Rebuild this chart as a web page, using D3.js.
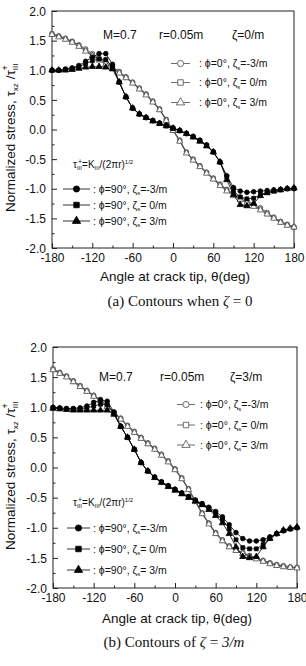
<!DOCTYPE html>
<html><head><meta charset="utf-8">
<script src="https://cdn.jsdelivr.net/npm/d3@7"></script>
<style>html,body{margin:0;padding:0;background:#fff;} svg{display:block;}</style>
</head><body>
<script>
// ---------- data ----------
const angles = [-180,-170,-160,-150,-140,-130,-120,-110,-100,-90,-80,-70,-60,-50,-40,-30,-20,-10,0,10,20,30,40,50,60,70,80,90,100,110,120,130,140,150,160,170,180];
const xTicks = [-180,-120,-60,0,60,120,180];
const xMinor = [-150,-90,-30,30,90,150];
const yTicks = [-2.0,-1.5,-1.0,-0.5,0.0,0.5,1.0,1.5,2.0];
const yMinor = [-1.75,-1.25,-0.75,-0.25,0.25,0.75,1.25,1.75];

const openLabels = ["-3/m","\u00a00/m","\u00a03/m"];
const fillLabels = ["-3/m","\u00a00/m","\u00a03/m"];

// panel (a): zeta = 0
const aOpenCircle   = [1.62,1.58,1.54,1.49,1.43,1.36,1.28,1.21,1.14,1.06,0.98,0.89,0.80,0.70,0.60,0.48,0.35,0.17,0.00,-0.18,-0.38,-0.50,-0.61,-0.72,-0.82,-0.92,-1.01,-1.08,-1.14,-1.20,-1.26,-1.32,-1.40,-1.48,-1.55,-1.60,-1.64];
const aOpenSquare   = [1.61,1.57,1.53,1.48,1.42,1.34,1.26,1.19,1.12,1.05,0.97,0.88,0.79,0.69,0.59,0.47,0.34,0.16,-0.01,-0.19,-0.39,-0.51,-0.62,-0.73,-0.83,-0.93,-1.02,-1.10,-1.16,-1.22,-1.28,-1.34,-1.42,-1.49,-1.56,-1.61,-1.65];
const aOpenTriangle = [1.60,1.56,1.52,1.47,1.40,1.32,1.24,1.17,1.10,1.03,0.95,0.87,0.78,0.68,0.58,0.46,0.33,0.15,-0.02,-0.20,-0.40,-0.52,-0.63,-0.74,-0.84,-0.95,-1.04,-1.12,-1.18,-1.24,-1.30,-1.36,-1.43,-1.50,-1.57,-1.62,-1.65];
const aFillCircle   = [1.00,1.00,1.02,1.04,1.08,1.15,1.22,1.28,1.28,1.10,0.80,0.55,0.36,0.26,0.20,0.15,0.11,0.07,0.03,-0.02,-0.07,-0.12,-0.18,-0.26,-0.38,-0.55,-0.78,-0.98,-1.04,-1.06,-1.05,-1.04,-1.03,-1.02,-1.01,-1.00,-1.00];
const aFillSquare   = [1.00,1.00,1.01,1.03,1.06,1.11,1.16,1.19,1.18,1.06,0.80,0.55,0.36,0.26,0.20,0.15,0.10,0.06,0.02,-0.02,-0.07,-0.12,-0.19,-0.27,-0.38,-0.55,-0.80,-1.04,-1.14,-1.17,-1.16,-1.10,-1.06,-1.04,-1.02,-1.00,-0.99];
const aFillTriangle = [1.00,1.00,1.00,1.01,1.03,1.05,1.06,1.06,1.05,1.02,0.80,0.55,0.36,0.26,0.20,0.14,0.10,0.06,0.02,-0.02,-0.07,-0.13,-0.20,-0.28,-0.38,-0.55,-0.85,-1.10,-1.27,-1.29,-1.25,-1.12,-1.07,-1.04,-1.02,-1.00,-0.99];

// panel (b): zeta = 3/m
const bOpenCircle   = [1.64,1.58,1.52,1.44,1.36,1.28,1.20,1.13,1.03,0.92,0.82,0.70,0.60,0.50,0.41,0.32,0.22,0.11,-0.02,-0.17,-0.35,-0.55,-0.75,-0.92,-1.08,-1.20,-1.30,-1.36,-1.41,-1.46,-1.50,-1.54,-1.58,-1.61,-1.63,-1.65,-1.66];
const bOpenSquare   = [1.63,1.57,1.51,1.43,1.35,1.27,1.19,1.12,1.02,0.91,0.81,0.69,0.59,0.49,0.40,0.31,0.21,0.10,-0.03,-0.18,-0.36,-0.56,-0.76,-0.93,-1.09,-1.21,-1.31,-1.37,-1.42,-1.47,-1.51,-1.55,-1.59,-1.62,-1.64,-1.66,-1.66];
const bOpenTriangle = [1.62,1.56,1.50,1.42,1.34,1.26,1.18,1.11,1.01,0.90,0.80,0.68,0.58,0.48,0.39,0.30,0.20,0.09,-0.04,-0.19,-0.37,-0.57,-0.77,-0.94,-1.10,-1.22,-1.32,-1.38,-1.43,-1.48,-1.52,-1.56,-1.60,-1.63,-1.65,-1.66,-1.67];
const bFillCircle   = [1.00,0.99,0.98,0.98,0.99,1.02,1.08,1.12,1.10,0.92,0.68,0.50,0.30,0.08,-0.06,-0.16,-0.24,-0.30,-0.36,-0.42,-0.48,-0.54,-0.60,-0.66,-0.73,-0.82,-0.95,-1.08,-1.18,-1.22,-1.22,-1.20,-1.15,-1.10,-1.05,-1.02,-1.00];
const bFillSquare   = [0.99,0.98,0.97,0.97,0.97,0.99,1.02,1.05,1.04,0.90,0.68,0.50,0.30,0.08,-0.06,-0.16,-0.24,-0.31,-0.37,-0.43,-0.49,-0.55,-0.61,-0.68,-0.76,-0.86,-1.02,-1.20,-1.33,-1.35,-1.35,-1.28,-1.18,-1.10,-1.05,-1.02,-1.00];
const bFillTriangle = [0.98,0.97,0.96,0.95,0.95,0.95,0.95,0.95,0.95,0.88,0.68,0.50,0.30,0.08,-0.06,-0.17,-0.25,-0.32,-0.38,-0.44,-0.50,-0.56,-0.62,-0.70,-0.80,-0.92,-1.10,-1.32,-1.48,-1.50,-1.48,-1.32,-1.18,-1.10,-1.04,-1.01,-0.99];

// ---------- layout ----------
const W = 306, H = 666;
const svg = d3.select("body").append("svg").attr("width", W).attr("height", H)
  .style("font-family", "'Liberation Sans', Arial, sans-serif");

const panels = [
  { l:52, r:294, t:11, b:248, xTickY:262, xTitleY:281, xTitleX:175, yLabBottom:212,
    capX:180, capY:306, capLabel:"(a) Contours when ", capTail:"0",
    annY:39, annM:103, annR:159, annZ:232, zetaText:"=0/m",
    oLine:[171,190], oText:199, oRows:[63.5,82.5,102.5],
    fForm:[73,165], fLine:[63,90], fText:93, fRows:[189,205,221],
    open:[aOpenCircle,aOpenSquare,aOpenTriangle], fill:[aFillCircle,aFillSquare,aFillTriangle] },
  { l:53, r:297, t:347, b:588, xTickY:602, xTitleY:623, xTitleX:177, yLabBottom:550,
    capX:174, capY:647, capLabel:"(b) Contours of ", capTail:"3/m",
    annY:381, annM:99, annR:160, annZ:230, zetaText:"=3/m",
    oLine:[177,195], oText:200, oRows:[404.5,425,445],
    fForm:[73,503], fLine:[67,90], fText:93, fRows:[528,549,570],
    open:[bOpenCircle,bOpenSquare,bOpenTriangle], fill:[bFillCircle,bFillSquare,bFillTriangle] }
];

const symTypes = [d3.symbolCircle, d3.symbolSquare, d3.symbolTriangle];
const symSizes = [17, 15, 17];
const openColor = "#4a4a4a";

panels.forEach(p => {
  const g = svg.append("g");
  const x = d3.scaleLinear().domain([-180,180]).range([p.l, p.r]);
  const y = d3.scaleLinear().domain([-2,2]).range([p.b, p.t]);

  // frame
  g.append("rect").attr("x", p.l).attr("y", p.t).attr("width", p.r-p.l).attr("height", p.b-p.t)
    .attr("fill","none").attr("stroke","#222").attr("stroke-width",1);

  // bottom axis (inward ticks)
  const bx = g.append("g").attr("transform", `translate(0,${p.b})`)
    .call(d3.axisBottom(x).tickValues(xTicks).tickSize(-5).tickFormat(d => String(d)));
  bx.select(".domain").remove();
  bx.selectAll("line").attr("stroke","#222");
  bx.selectAll("text").attr("y", p.xTickY - p.b).attr("dy", 0)
    .attr("font-size", 12).attr("fill","#111").attr("font-family","'Liberation Sans', Arial, sans-serif");
  const bxm = g.append("g").attr("transform", `translate(0,${p.b})`)
    .call(d3.axisBottom(x).tickValues(xMinor).tickSize(-2.5).tickFormat(""));
  bxm.select(".domain").remove();
  bxm.selectAll("line").attr("stroke","#222");

  // left axis
  const ly = g.append("g").attr("transform", `translate(${p.l},0)`)
    .call(d3.axisLeft(y).tickValues(yTicks).tickSize(-5).tickFormat(d => d.toFixed(1)));
  ly.select(".domain").remove();
  ly.selectAll("line").attr("stroke","#222");
  ly.selectAll("text").attr("x", -6).attr("dy","0.35em")
    .attr("font-size", 12).attr("fill","#111").attr("font-family","'Liberation Sans', Arial, sans-serif");
  const lym = g.append("g").attr("transform", `translate(${p.l},0)`)
    .call(d3.axisLeft(y).tickValues(yMinor).tickSize(-2.5).tickFormat(""));
  lym.select(".domain").remove();
  lym.selectAll("line").attr("stroke","#222");

  // axis titles
  g.append("text").attr("x", p.xTitleX).attr("y", p.xTitleY).attr("text-anchor","middle")
    .attr("font-size", 13.5).attr("fill","#111").text("Angle at crack tip, θ(deg)");

  const yl = g.append("text").attr("transform", `translate(15,${p.yLabBottom}) rotate(-90)`)
    .attr("font-size", 13.5).attr("fill","#111");
  yl.append("tspan").text("Normalized stress, τ");
  yl.append("tspan").attr("font-size", 8).attr("dy", 3).text("xz");
  yl.append("tspan").attr("dy", -3).text("\u00a0/τ");
  yl.append("tspan").attr("font-size", 8).attr("dy", 3).text("III");
  yl.append("tspan").attr("font-size", 9).attr("dx", -7).attr("dy", -10).text("+");

  // caption
  const cap = g.append("text").attr("x", p.capX).attr("y", p.capY).attr("text-anchor","middle")
    .attr("font-family","'Liberation Serif', 'Times New Roman', serif").attr("font-size", 15).attr("fill","#111");
  cap.append("tspan").text(p.capLabel);
  cap.append("tspan").attr("font-style","italic").text("ζ");
  cap.append("tspan").text("\u00a0=\u00a0");
  cap.append("tspan").attr("font-style", p.capTail === "0" ? "normal" : "italic").text(p.capTail);

  // annotations
  const ann = g.append("g").attr("font-size", 12).attr("fill","#111");
  ann.append("text").attr("x", p.annM).attr("y", p.annY).text("M=0.7");
  ann.append("text").attr("x", p.annR).attr("y", p.annY).text("r=0.05m");
  ann.append("text").attr("x", p.annZ).attr("y", p.annY).text("ζ" + p.zetaText);

  // data lines & markers
  const line = d3.line().x((d,i) => x(angles[i])).y(d => y(d));
  const drawSeries = (vals, k, filled) => {
    const col = filled ? "#000" : openColor;
    g.append("path").datum(vals).attr("d", line).attr("fill","none")
      .attr("stroke", col).attr("stroke-width", 0.8);
    g.append("g").selectAll("path").data(vals).join("path")
      .attr("transform", (d,i) => `translate(${x(angles[i])},${y(d)})`)
      .attr("d", d3.symbol().type(symTypes[k]).size(symSizes[k]))
      .attr("fill", filled ? "#000" : "#fff")
      .attr("stroke", col).attr("stroke-width", 0.8);
  };
  p.open.forEach((v,k) => drawSeries(v,k,false));
  p.fill.forEach((v,k) => drawSeries(v,k,true));

  // open legend
  p.oRows.forEach((cy,k) => {
    g.append("line").attr("x1", p.oLine[0]).attr("x2", p.oLine[1]).attr("y1", cy).attr("y2", cy)
      .attr("stroke", openColor).attr("stroke-width", 0.8);
    g.append("path").attr("transform", `translate(${(p.oLine[0]+p.oLine[1])/2},${cy})`)
      .attr("d", d3.symbol().type(symTypes[k]).size(30)).attr("fill","#fff")
      .attr("stroke", openColor).attr("stroke-width", 0.8);
    const t = g.append("text").attr("x", p.oText).attr("y", cy + 3.8).attr("font-size", 10.5).attr("fill","#111");
    t.append("tspan").text(":\u00a0ϕ=0°,\u00a0ζ");
    t.append("tspan").attr("font-size", 6).attr("dy", 2.5).text("s");
    t.append("tspan").attr("dy", -2.5).text("=" + openLabels[k]);
  });

  // filled legend
  const f = g.append("text").attr("x", p.fForm[0]).attr("y", p.fForm[1] + 3).attr("font-size", 10).attr("fill","#111");
  f.append("tspan").text("τ");
  f.append("tspan").attr("font-size", 6).attr("dy", 2).text("III");
  f.append("tspan").attr("font-size", 7).attr("dx", -4).attr("dy", -6.5).text("+");
  f.append("tspan").attr("dy", 4.5).text("=K");
  f.append("tspan").attr("font-size", 6).attr("dy", 2).text("III");
  f.append("tspan").attr("dy", -2).text("/(2πr)");
  f.append("tspan").attr("font-size", 6).attr("dy", -4).text("1/2");

  p.fRows.forEach((cy,k) => {
    g.append("line").attr("x1", p.fLine[0]).attr("x2", p.fLine[1]).attr("y1", cy).attr("y2", cy)
      .attr("stroke", "#000").attr("stroke-width", 0.8);
    g.append("path").attr("transform", `translate(${(p.fLine[0]+p.fLine[1])/2},${cy})`)
      .attr("d", d3.symbol().type(symTypes[k]).size(30)).attr("fill","#000")
      .attr("stroke", "#000").attr("stroke-width", 0.8);
    const t = g.append("text").attr("x", p.fText).attr("y", cy + 3.8).attr("font-size", 10.5).attr("fill","#111");
    t.append("tspan").text(":\u00a0ϕ=90°,\u00a0ζ");
    t.append("tspan").attr("font-size", 6).attr("dy", 2.5).text("s");
    t.append("tspan").attr("dy", -2.5).text("=" + fillLabels[k]);
  });
});
</script>
</body></html>
